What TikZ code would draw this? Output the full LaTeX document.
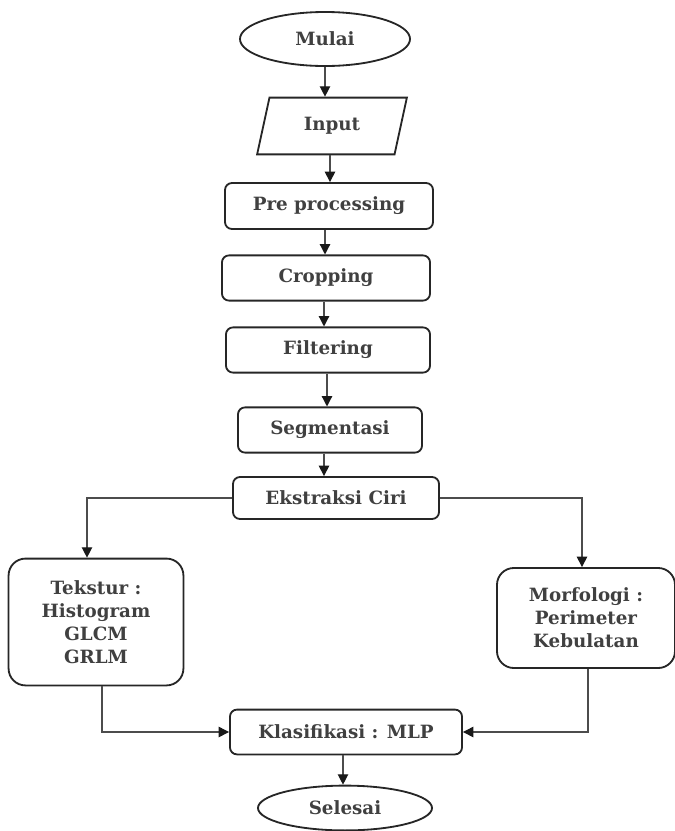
\documentclass[tikz,border=0pt]{standalone}
\usepackage{fontspec}
\setmainfont{DejaVu Serif}
\usetikzlibrary{arrows.meta,shapes.geometric}
\tikzset{
  proses/.style={draw=black!85,line width=1.3pt,rounded corners=5pt,
    text=black!75,font=\fontsize{13}{16.3}\selectfont\bfseries,align=center,
    inner sep=0pt},
  terminal/.style={draw=black!85,line width=1.3pt,ellipse,inner sep=0pt,
    text=black!75,font=\fontsize{13}{16.3}\selectfont\bfseries},
  panah/.style={draw=black!70,line width=0.9pt,
    -{Triangle[length=2.6mm,width=2.6mm,color=black!90]}}
}
\begin{document}
\begin{tikzpicture}[x=0.025cm,y=-0.025cm]
\useasboundingbox (0,0) rectangle (675,831);
% simpul
\node[terminal,minimum width=4.25cm,minimum height=1.35cm] (mulai) at (325,39) {Mulai};
\node[draw=black!85,line width=1.3pt,trapezium,trapezium left angle=72,
  trapezium right angle=108,trapezium stretches=true,minimum width=3.75cm,
  minimum height=1.42cm,inner sep=0pt,text=black!75,
  font=\fontsize{13}{16.3}\selectfont\bfseries] (input) at (332,126) {Input};
\node[proses,minimum width=5.2cm,minimum height=1.15cm] (pre) at (329,206) {Pre processing};
\node[proses,minimum width=5.2cm,minimum height=1.13cm] (crop) at (326,278) {Cropping};
\node[proses,minimum width=5.1cm,minimum height=1.13cm] (filter) at (328,350) {Filtering};
\node[proses,minimum width=4.6cm,minimum height=1.13cm] (segmen) at (330,430) {Segmentasi};
\node[proses,minimum width=5.15cm,minimum height=1.05cm] (ekstraksi) at (336,498) {Ekstraksi Ciri};
\node[proses,rounded corners=12pt,minimum width=4.37cm,minimum height=3.17cm] (tekstur) at (96,622)
  {Tekstur :\\Histogram\\GLCM\\GRLM};
\node[proses,rounded corners=12pt,minimum width=4.45cm,minimum height=2.5cm] (morfo) at (586,618)
  {Morfologi :\\Perimeter\\Kebulatan};
\node[proses,minimum width=5.8cm,minimum height=1.12cm] (klasifikasi) at (346,732) {Klasifikasi : MLP};
\node[terminal,minimum width=4.35cm,minimum height=1.12cm] (selesai) at (345,808) {Selesai};
% garis
\draw[panah] (mulai) -- (mulai|-input.north);
\draw[panah] (input.south-|330,0) -- (pre.north-|330,0);
\draw[panah] (pre.south-|325,0) -- (crop.north-|325,0);
\draw[panah] (crop.south-|324,0) -- (filter.north-|324,0);
\draw[panah] (filter.south-|327,0) -- (segmen.north-|327,0);
\draw[panah] (segmen.south-|324,0) -- (ekstraksi.north-|324,0);
\draw[panah] (ekstraksi.west) -| (87,0|-tekstur.north);
\draw[panah] (ekstraksi.east) -| (582,0|-morfo.north);
\draw[panah] (tekstur.south-|102,0) |- (klasifikasi.west);
\draw[panah] (morfo.south-|588,0) |- (klasifikasi.east);
\draw[panah] (klasifikasi.south-|343,0) -- (selesai.north-|343,0);
\end{tikzpicture}
\end{document}
